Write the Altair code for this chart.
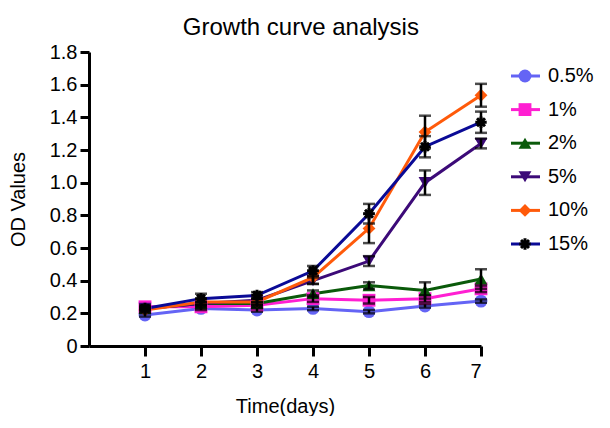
import altair as alt
import pandas as pd

days = [1, 2, 3, 4, 5, 6, 7]
series = ["0.5%", "1%", "2%", "5%", "10%", "15%"]

v_05 = [0.19, 0.23, 0.22, 0.23, 0.21, 0.245, 0.275]
v_1 = [0.24, 0.24, 0.25, 0.29, 0.28, 0.29, 0.35]
v_2 = [0.23, 0.26, 0.26, 0.32, 0.37, 0.34, 0.41]
v_5 = [0.23, 0.26, 0.28, 0.40, 0.52, 1.00, 1.24]
v_10 = [0.22, 0.27, 0.27, 0.42, 0.72, 1.31, 1.535]
v_15 = [0.23, 0.29, 0.31, 0.46, 0.81, 1.22, 1.37]

e_05 = [0.01, 0.01, 0.01, 0.01, 0.01, 0.01, 0.01]
e_1 = [0.01, 0.01, 0.01, 0.02, 0.02, 0.02, 0.02]
e_2 = [0.01, 0.01, 0.01, 0.02, 0.02, 0.05, 0.06]
e_5 = [0.01, 0.01, 0.01, 0.02, 0.03, 0.075, 0.03]
e_10 = [0.01, 0.02, 0.02, 0.04, 0.09, 0.10, 0.07]
e_15 = [0.01, 0.03, 0.02, 0.03, 0.06, 0.065, 0.065]

y_ticks = [0, 0.2, 0.4, 0.6, 0.8, 1.0, 1.2, 1.4, 1.6, 1.8]

colors = ["#6464F5", "#FF1FD2", "#0A5A0A", "#3C0A78", "#FF5A0A", "#0A0A96"]
shapes = ["circle", "square", "triangle-up", "triangle-down", "diamond", "cross"]
asterisk = "M-1,0L1,0M0,-1L0,1M-0.7,-0.7L0.7,0.7M-0.7,0.7L0.7,-0.7"

FONT = "Liberation Sans"

vals = [v_05, v_1, v_2, v_5, v_10, v_15]
errs = [e_05, e_1, e_2, e_5, e_10, e_15]
rows = []
for s, vs, es in zip(series, vals, errs):
    for d, v, e in zip(days, vs, es):
        rows.append({"series": s, "day": d, "value": v, "lo": v - e, "hi": v + e})
df = pd.DataFrame(rows)

color_scale = alt.Scale(domain=series, range=colors)
shape_scale = alt.Scale(domain=series, range=shapes)
x_scale = alt.Scale(domain=[0, 7], nice=False)
y_scale = alt.Scale(domain=[0, 1.8], nice=False)

x_axis = alt.Axis(values=days, title="Time(days)", format="d", labelOverlap=False)
y_axis = alt.Axis(
    values=y_ticks,
    labelExpr="datum.value == 0 ? '0' : format(datum.value, '.1f')",
    title="OD Values",
    labelOverlap=False,
)


def xe(field="day"):
    return alt.X(f"{field}:Q", scale=x_scale, axis=x_axis)


def ye(field):
    return alt.Y(f"{field}:Q", scale=y_scale, axis=y_axis)


base = alt.Chart(df)

lines = base.mark_line(strokeWidth=3).encode(
    x=xe(), y=ye("value"),
    color=alt.Color("series:N", scale=color_scale, legend=None),
    detail="series:N",
)

points = base.transform_filter(alt.datum.series != "15%").mark_point(
    filled=True, size=165, opacity=1
).encode(
    x=xe(), y=ye("value"),
    color=alt.Color("series:N", scale=color_scale, legend=None),
    shape=alt.Shape("series:N", scale=shape_scale, legend=None),
)

stars = base.transform_filter(alt.datum.series == "15%").mark_point(
    shape=asterisk, filled=False, size=130, color="black", strokeWidth=3, opacity=1
).encode(x=xe(), y=ye("value"))

err_rule = base.mark_rule(color="black", strokeWidth=2.5).encode(
    x=xe(), y=ye("lo"), y2="hi:Q"
)
cap_lo = base.mark_tick(color="black", thickness=2.5, size=12, orient="horizontal").encode(
    x=xe(), y=ye("lo")
)
cap_hi = base.mark_tick(color="black", thickness=2.5, size=12, orient="horizontal").encode(
    x=xe(), y=ye("hi")
)

main = alt.layer(lines, points, stars, err_rule, cap_lo, cap_hi).properties(
    width=392, height=294
)

leg_df = pd.DataFrame({"series": series, "idx": list(range(len(series)))})
leg_y = alt.Y("idx:Q", scale=alt.Scale(domain=[0, len(series) - 1], range=[24, 192], nice=False, zero=False), axis=None)
leg_base = alt.Chart(leg_df)
leg_rule = leg_base.mark_rule(strokeWidth=3).encode(
    y=leg_y, x=alt.value(0), x2=alt.value(29),
    color=alt.Color("series:N", scale=color_scale, legend=None),
)
leg_pts = leg_base.transform_filter(alt.datum.series != "15%").mark_point(
    filled=True, size=165, opacity=1
).encode(
    y=leg_y, x=alt.value(14),
    color=alt.Color("series:N", scale=color_scale, legend=None),
    shape=alt.Shape("series:N", scale=shape_scale, legend=None),
)
leg_star = leg_base.transform_filter(alt.datum.series == "15%").mark_point(
    shape=asterisk, filled=False, size=130, color="black", strokeWidth=3, opacity=1
).encode(y=leg_y, x=alt.value(14))
leg_text = leg_base.mark_text(
    align="left", baseline="middle", fontSize=20, font=FONT, color="black"
).encode(y=leg_y, x=alt.value(37), text="series:N")

legend = alt.layer(leg_rule, leg_pts, leg_star, leg_text).properties(width=80, height=294)

chart = alt.hconcat(main, legend, spacing=16).properties(
    padding={"top": 8, "left": 0, "right": 0, "bottom": 0},
    title=alt.TitleParams(
        "Growth curve analysis", fontSize=24, font=FONT, fontWeight="normal",
        anchor="middle", color="black", offset=2,
    ),
).configure_view(stroke=None).configure_axis(
    grid=False,
    domainColor="black", domainWidth=3,
    tickColor="black", tickWidth=3, tickSize=10,
    labelFont=FONT, labelFontSize=20, labelColor="black",
    titleFont=FONT, titleFontSize=20, titleFontWeight="normal", titleColor="black",
).configure_axisY(titlePadding=21, labelPadding=3, tickSize=9).configure_axisX(
    titlePadding=15, labelPadding=5
)

chart.save("out.html", embed_options={"renderer": "svg", "actions": False})
